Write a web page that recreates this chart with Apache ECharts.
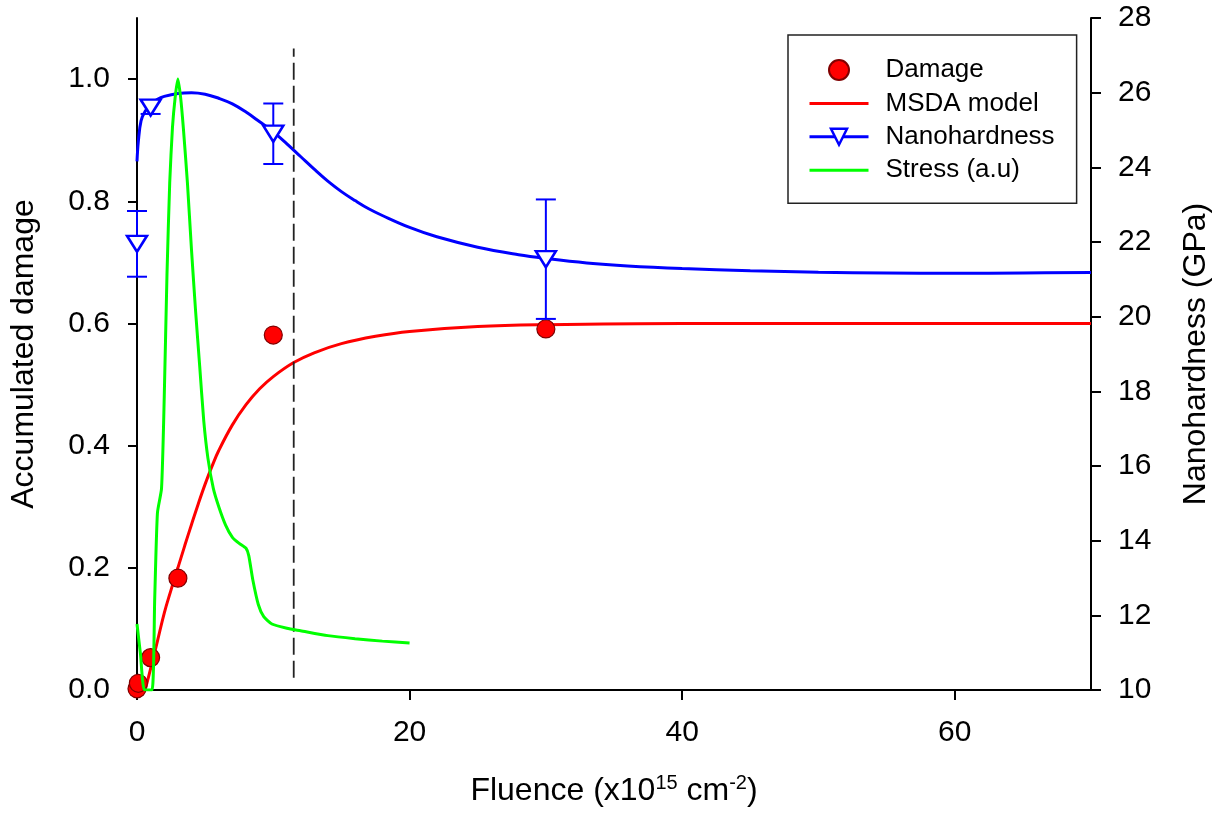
<!DOCTYPE html>
<html><head><meta charset="utf-8">
<script src="https://cdn.jsdelivr.net/npm/echarts@6/dist/echarts.min.js"></script>
<style>html,body{margin:0;padding:0;background:#fff}#c{width:1220px;height:814px}</style>
</head><body><div id="c"></div>
<script>
const FONT = '"Liberation Sans", Arial, Helvetica, sans-serif';

// ---- tick labels ----
const xTicks = [0, 20, 40, 60];
const yLeftTicks = [0, 0.2, 0.4, 0.6, 0.8, 1.0];

// ---- Damage (measured points, left axis) ----
const damageX = [0, 0.1, 1, 3, 10, 30];
const damageY = [0.002, 0.011, 0.053, 0.183, 0.581, 0.591];

// ---- MSDA model (left axis) ----
const msdaX = [0.6, 1, 1.5, 2, 2.5, 3, 3.5, 4, 4.5, 5, 5.5, 6, 7, 8, 9, 10, 11.5, 13, 15, 17.5, 20, 25, 30, 40, 50, 60, 70];
const msdaY = [0, 0.035, 0.08, 0.126, 0.164, 0.2, 0.236, 0.271, 0.305, 0.337, 0.366, 0.392, 0.434, 0.467, 0.493, 0.513, 0.536, 0.552, 0.567, 0.579, 0.587, 0.595, 0.598, 0.6, 0.6, 0.6, 0.6];

// ---- Nanohardness fit curve (right axis, GPa) ----
const hardFitX = [0, 0.1, 0.3, 0.6, 1, 1.5, 2, 3, 4, 5, 6, 7, 8, 9, 10, 11, 12, 13, 14, 15, 16, 17, 18, 20, 22, 25, 28, 30, 33, 36, 40, 45, 50, 55, 60, 65, 70];
const hardFitY = [24.16, 24.7, 25.25, 25.5, 25.68, 25.82, 25.9, 25.98, 26.0, 25.96, 25.85, 25.7, 25.48, 25.22, 24.95, 24.63, 24.29, 23.95, 23.63, 23.35, 23.11, 22.89, 22.71, 22.39, 22.14, 21.86, 21.66, 21.56, 21.44, 21.36, 21.29, 21.23, 21.19, 21.17, 21.16, 21.17, 21.18];

// ---- Nanohardness measured points with error bars (right axis) ----
const hardX = [0, 1, 10, 30];
const hardY = [21.95, 25.6, 24.9, 21.54];
const hardErr = [0.88, 0.17, 0.81, 1.6];

// ---- Stress (a.u., normalised, left axis) ----
const stressX = [0, 0.25, 0.55, 1.1, 1.3, 1.5, 1.8, 2.0, 2.2, 2.4, 2.6, 2.8, 3.0, 3.2, 3.4, 3.7, 4.0, 4.3, 4.6, 4.9, 5.2, 5.6, 6.0, 6.5, 7.0, 7.5, 8.0, 8.2, 8.5, 8.9, 9.3, 9.9, 11, 12, 14, 16, 18, 20];
const stressY = [0.108, 0.06, 0.0, 0.0, 0.15, 0.29, 0.33, 0.48, 0.68, 0.83, 0.92, 0.97, 1.0, 0.97, 0.92, 0.83, 0.72, 0.62, 0.53, 0.44, 0.38, 0.33, 0.30, 0.27, 0.25, 0.24, 0.232, 0.22, 0.18, 0.14, 0.12, 0.108, 0.101, 0.097, 0.089, 0.084, 0.080, 0.077];

// ---- vertical dashed marker ----
const markerX = [11.5, 11.5];
const markerY = [0.02, 1.05];

const zip = (a, b) => a.map((v, i) => [v, b[i]]);

const axisLineStyle = { color: '#000', width: 2 };
const labelStyle = { fontFamily: FONT, fontSize: 30, color: '#000' };
const hidden = { color: 'rgba(0,0,0,0)', borderWidth: 0, opacity: 0 };

const chart = echarts.init(document.getElementById('c'), null, { renderer: 'canvas' });
chart.setOption({
  animation: false,
  backgroundColor: '#fff',
  grid: { left: 136, right: 125, top: 18, bottom: 122, containLabel: false },
  legend: {
    left: 788, top: 35, orient: 'vertical',
    padding: [22, 22, 20, 20],
    itemGap: 7.4, itemWidth: 59, itemHeight: 20,
    borderColor: '#222', borderWidth: 1.5,
    textStyle: { fontFamily: FONT, fontSize: 26, color: '#000', padding: [0, 0, 0, 12] },
    data: [
      { name: 'Damage' },
      { name: 'MSDA model', itemStyle: hidden, lineStyle: { width: 3, color: '#ff0000' } },
      { name: 'Nanohardness', itemStyle: { color: '#fff', borderColor: '#0000ff', borderWidth: 2.5 }, lineStyle: { width: 3, color: '#0000ff' } },
      { name: 'Stress (a.u)', itemStyle: hidden, lineStyle: { width: 3, color: '#00ff00' } }
    ]
  },
  xAxis: {
    type: 'value', min: 0, max: 70,
    name: 'Fluence (x10{s|15} cm{s|-2})',
    nameLocation: 'middle', nameGap: 83,
    nameTextStyle: {
      fontFamily: FONT, fontSize: 32, color: '#000', lineHeight: 36,
      rich: { s: { fontFamily: FONT, fontSize: 20, lineHeight: 14, verticalAlign: 'top', color: '#000' } }
    },
    axisLine: { show: true, onZero: false, lineStyle: axisLineStyle },
    axisTick: { show: true, inside: false, length: 10, lineStyle: { width: 2, color: '#000' }, customValues: xTicks },
    axisLabel: { ...labelStyle, margin: 28, customValues: xTicks },
    splitLine: { show: false }
  },
  yAxis: [
    {
      type: 'value', min: 0, max: 1.1, position: 'left',
      name: 'Accumulated damage', nameLocation: 'middle', nameGap: 97, nameRotate: 90,
      nameTextStyle: { fontFamily: FONT, fontSize: 32, color: '#000' },
      axisLine: { show: true, onZero: false, lineStyle: axisLineStyle },
      axisTick: { show: true, inside: false, length: 9, lineStyle: { width: 2, color: '#000' }, customValues: yLeftTicks },
      axisLabel: { ...labelStyle, margin: 27, customValues: yLeftTicks, formatter: v => v.toFixed(1) },
      splitLine: { show: false }
    },
    {
      type: 'value', min: 10, max: 28, interval: 2, position: 'right',
      name: 'Nanohardness (GPa)', nameLocation: 'middle', nameGap: 89, nameRotate: 90,
      nameTextStyle: { fontFamily: FONT, fontSize: 32, color: '#000' },
      axisLine: { show: true, onZero: false, lineStyle: axisLineStyle },
      axisTick: { show: true, inside: false, length: 10, lineStyle: { width: 2, color: '#000' } },
      axisLabel: { ...labelStyle, margin: 27 },
      splitLine: { show: false }
    }
  ],
  series: [
    {
      name: 'MSDA model', type: 'line', yAxisIndex: 0, smooth: 0.4, symbol: 'none',
      data: zip(msdaX, msdaY),
      lineStyle: { color: '#ff0000', width: 3 }, itemStyle: { color: '#ff0000' }, z: 2
    },
    {
      name: 'Nanohardness', type: 'line', yAxisIndex: 1, smooth: 0.4,
      symbol: 'triangle', symbolRotate: 180, symbolSize: [20, 16], showSymbol: false,
      data: zip(hardFitX, hardFitY),
      lineStyle: { color: '#0000ff', width: 3 },
      itemStyle: { color: '#fff', borderColor: '#0000ff', borderWidth: 2.5 }, z: 2
    },
    {
      name: 'marker', type: 'line', yAxisIndex: 0, symbol: 'none', silent: true,
      data: zip(markerX, markerY),
      lineStyle: { color: '#222', width: 1.8, type: [17, 6] }, z: 2
    },
    {
      name: 'Damage', type: 'scatter', yAxisIndex: 0, symbol: 'circle', symbolSize: 18, clip: false,
      data: zip(damageX, damageY),
      itemStyle: { color: '#ff0000', borderColor: '#800000', borderWidth: 1.2, opacity: 1 }, z: 3
    },
    {
      name: 'Stress (a.u)', type: 'line', yAxisIndex: 0, smooth: 0.2, symbol: 'none',
      data: zip(stressX, stressY),
      lineStyle: { color: '#00ff00', width: 3 }, itemStyle: { color: '#00ff00' }, z: 4
    },
    {
      name: 'hardErr', type: 'custom', yAxisIndex: 1, silent: true, z: 5, clip: false,
      data: hardX.map((x, i) => [x, hardY[i] - hardErr[i], hardY[i] + hardErr[i]]),
      encode: { x: 0, y: [1, 2] },
      renderItem: (params, api) => {
        const lo = api.coord([api.value(0), api.value(1)]);
        const hi = api.coord([api.value(0), api.value(2)]);
        const w = 10;
        const st = { stroke: '#0000ff', lineWidth: 2, fill: null };
        return {
          type: 'group', children: [
            { type: 'line', shape: { x1: lo[0], y1: lo[1], x2: hi[0], y2: hi[1] }, style: st },
            { type: 'line', shape: { x1: lo[0] - w, y1: lo[1], x2: lo[0] + w, y2: lo[1] }, style: st },
            { type: 'line', shape: { x1: hi[0] - w, y1: hi[1], x2: hi[0] + w, y2: hi[1] }, style: st }
          ]
        };
      }
    },
    {
      name: 'hardPts', type: 'scatter', yAxisIndex: 1, clip: false,
      symbol: 'triangle', symbolRotate: 180, symbolSize: [20, 16],
      data: zip(hardX, hardY),
      itemStyle: { color: '#fff', borderColor: '#0000ff', borderWidth: 2.5, opacity: 1 }, z: 6
    }
  ]
});
</script>
</body></html>
